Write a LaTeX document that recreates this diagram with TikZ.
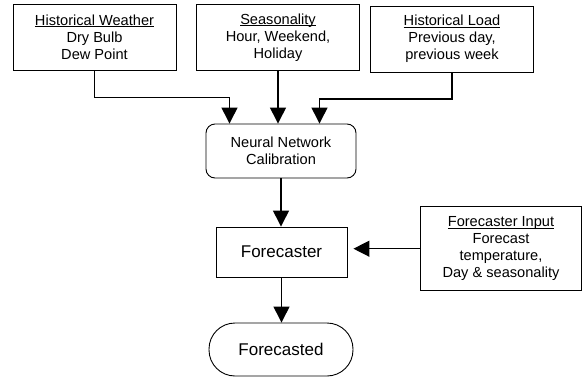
\documentclass[tikz,border=0pt]{standalone}
\usepackage{fontspec}
\setmainfont{Liberation Sans}
\usetikzlibrary{arrows.meta}
\usetikzlibrary{calc}
\newcommand{\hdr}[1]{\setbox0\hbox{#1}\rlap{\rule[-2pt]{\wd0}{1.1pt}}\box0}

\begin{document}
\begin{tikzpicture}[x=1pt,y=-1pt,->,>={Triangle[width=16pt,length=16pt]},line width=1.3pt,
	in box/.style={draw,rectangle,line width=0.9pt,align=center,minimum width=163pt,minimum height=66pt,inner sep=2pt,font=\fontsize{14.6}{17}\selectfont},
	main box/.style={draw,rectangle,line width=0.9pt,align=center,inner sep=2pt,font=\fontsize{17}{20}\selectfont}]

				\useasboundingbox (0,0) rectangle (582,378);

				\node[in box] (HW) at (94.5,37) {\hdr{Historical Weather}\\Dry Bulb\\Dew Point};
				\node[in box] (SE) at (278,37.5) {\hdr{Seasonality}\\Hour, Weekend,\\Holiday};
				\node[in box] (HL) at (452,39) {\hdr{Historical Load}\\Previous day,\\previous week};
				\node[in box,rounded corners=9pt,minimum width=150pt,minimum height=54pt] (NN) at (281,151) {Neural Network\\Calibration};
				\node[main box,minimum width=131pt,minimum height=50pt] (FC) at (281.5,252) {Forecaster};
				\node[in box,minimum width=161pt,minimum height=84pt] (FI) at (501,248.7) {\hdr{Forecaster Input}\\Forecast\\temperature,\\Day \& seasonality};
				\node[main box,rounded corners=26pt,minimum width=144pt,minimum height=53pt] (FD) at (281,349.5) {Forecasted};

				\draw (HW.south) -- ++(0,27) -| ($(NN.north)+(-51.5,0)$);
				\draw (SE.south) -- (SE.south |- NN.north);
				\draw (HL.south) -- ++(0,26.5) -| ($(NN.north)+(38.5,0)$);
				\draw (NN.south) -- (NN.south |- FC.north);
				\draw[shorten >=6pt] (FI.west) -- (FI.west -| FC.east);
				\draw (FC.south) -- (FC.south |- FD.north);

\end{tikzpicture}
\end{document}
